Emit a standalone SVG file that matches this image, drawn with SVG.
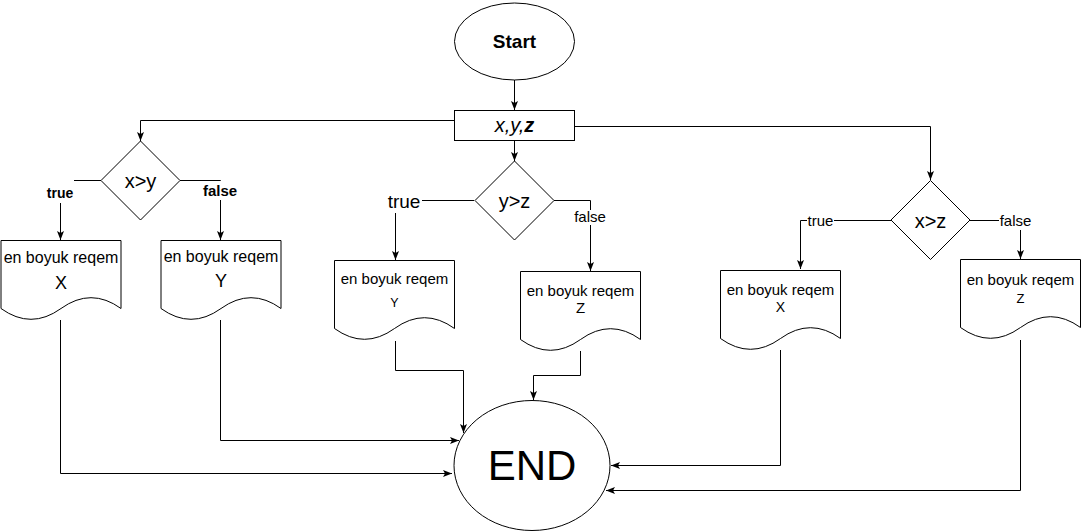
<svg xmlns="http://www.w3.org/2000/svg" width="1081" height="532" viewBox="0 0 1081 532">
<style>
.s{fill:#fff;stroke:#000;stroke-width:1}
.c{fill:none;stroke:#000;stroke-width:1}
.t{font-family:"Liberation Sans",Arial,sans-serif;fill:#000;text-anchor:middle}
.bg{fill:#fff;stroke:none}
</style>
<defs>
<marker id="a" markerUnits="userSpaceOnUse" markerWidth="9" markerHeight="8" viewBox="0 0 9 8" refX="9" refY="4" orient="auto">
<path d="M0,0.5 L9,4 L0,7.5 L2,4 Z" fill="#000"/>
</marker>
</defs>
<rect width="1081" height="532" fill="#fff"/>
<g id="connectors">
<path class="c" d="M514.5,80 V110" marker-end="url(#a)"/>
<path class="c" d="M514.5,140 V161" marker-end="url(#a)"/>
<path class="c" d="M454,120.5 H140.5 V141" marker-end="url(#a)"/>
<path class="c" d="M575,126.5 H930.5 V180" marker-end="url(#a)"/>
<path class="c" d="M101,180.5 H60.5 V240" marker-end="url(#a)"/>
<path class="c" d="M180,180.5 H220.5 V240" marker-end="url(#a)"/>
<path class="c" d="M474,200.5 H395.5 V260" marker-end="url(#a)"/>
<path class="c" d="M554,200.5 H590.5 V271" marker-end="url(#a)"/>
<path class="c" d="M891,220.5 H800.5 V269" marker-end="url(#a)"/>
<path class="c" d="M970,220.5 H1020.5 V259" marker-end="url(#a)"/>
<path class="c" d="M60.5,320 V473.5 H452" marker-end="url(#a)"/>
<path class="c" d="M220.5,320 V440.5 H459" marker-end="url(#a)"/>
<path class="c" d="M395.5,341 V370.5 H463.5 V433" marker-end="url(#a)"/>
<path class="c" d="M580.5,351 V375.5 H533.5 V400" marker-end="url(#a)"/>
<path class="c" d="M780.5,350 V465.5 H611" marker-end="url(#a)"/>
<path class="c" d="M1020.5,340 V490.5 H606" marker-end="url(#a)"/>
<rect class="bg" x="46" y="179" width="28" height="24"/>
<text class="t" x="60" y="198" font-size="14" font-weight="bold">true</text>
<rect class="bg" x="202" y="181" width="37" height="19"/>
<text class="t" x="220" y="196" font-size="15" font-weight="bold">false</text>
<rect class="bg" x="386" y="189" width="36" height="24"/>
<text class="t" x="404" y="208" font-size="19">true</text>
<rect class="bg" x="572" y="210" width="36" height="15"/>
<text class="t" x="590" y="222" font-size="15">false</text>
<rect class="bg" x="807" y="213" width="27" height="15"/>
<text class="t" x="820.5" y="226" font-size="15">true</text>
<rect class="bg" x="999" y="212" width="33" height="18"/>
<text class="t" x="1015.5" y="226" font-size="15">false</text>
</g>
<g id="start">
<ellipse class="s" cx="514.5" cy="41.5" rx="60" ry="38.5"/>
<text class="t" x="514.5" y="48" font-size="19" font-weight="bold">Start</text>
</g>
<g id="input">
<rect class="s" x="454.5" y="110.5" width="120" height="30"/>
<text class="t" x="514.5" y="132" font-size="20" font-style="italic">x,y,<tspan font-weight="bold">z</tspan></text>
</g>
<g id="dxy">
<path class="s" d="M140.5,141 L180,180.5 L140.5,220 L101,180.5 Z"/>
<text class="t" x="140.5" y="188" font-size="20">x&gt;y</text>
</g>
<g id="dyz">
<path class="s" d="M514.5,161 L554,200.5 L514.5,240 L475,200.5 Z"/>
<text class="t" x="514.5" y="208" font-size="20">y&gt;z</text>
</g>
<g id="dxz">
<path class="s" d="M930.5,180.5 L970,220 L930.5,259.5 L891,220 Z"/>
<text class="t" x="930.5" y="227.5" font-size="20">x&gt;z</text>
</g>
<g id="docXL">
<path class="s" d="M1,240.5 H121 V308.5 Q91,286.9 61,308.5 Q31,330.1 1,308.5 Z"/>
<text class="t" x="61" y="263" font-size="16">en boyuk reqem</text>
<text class="t" x="61" y="289" font-size="18">X</text>
</g>
<g id="docYL">
<path class="s" d="M161,240.5 H281 V308.5 Q251,286.9 221,308.5 Q191,330.1 161,308.5 Z"/>
<text class="t" x="221" y="262" font-size="16">en boyuk reqem</text>
<text class="t" x="221" y="287" font-size="18">Y</text>
</g>
<g id="docYM">
<path class="s" d="M334.5,260.5 H454.5 V328.5 Q424.5,306.9 394.5,328.5 Q364.5,350.1 334.5,328.5 Z"/>
<text class="t" x="394.5" y="284" font-size="15">en boyuk reqem</text>
<text class="t" x="394.5" y="307" font-size="12.5">Y</text>
</g>
<g id="docZM">
<path class="s" d="M520.5,271.5 H640.5 V339.5 Q610.5,317.9 580.5,339.5 Q550.5,361.1 520.5,339.5 Z"/>
<text class="t" x="580.5" y="296" font-size="15">en boyuk reqem</text>
<text class="t" x="580.5" y="313" font-size="15">Z</text>
</g>
<g id="docXR">
<path class="s" d="M720.5,270.5 H840.5 V338.5 Q810.5,316.9 780.5,338.5 Q750.5,360.1 720.5,338.5 Z"/>
<text class="t" x="780.5" y="295" font-size="15">en boyuk reqem</text>
<text class="t" x="780.5" y="312" font-size="14">X</text>
</g>
<g id="docZR">
<path class="s" d="M960.5,259.5 H1080.5 V327.5 Q1050.5,305.9 1020.5,327.5 Q990.5,349.1 960.5,327.5 Z"/>
<text class="t" x="1020.5" y="285" font-size="15">en boyuk reqem</text>
<text class="t" x="1020.5" y="303" font-size="13">Z</text>
</g>
<g id="end">
<ellipse class="s" cx="532" cy="465.5" rx="78" ry="65"/>
<text class="t" x="532" y="480" font-size="42">END</text>
</g>
</svg>
